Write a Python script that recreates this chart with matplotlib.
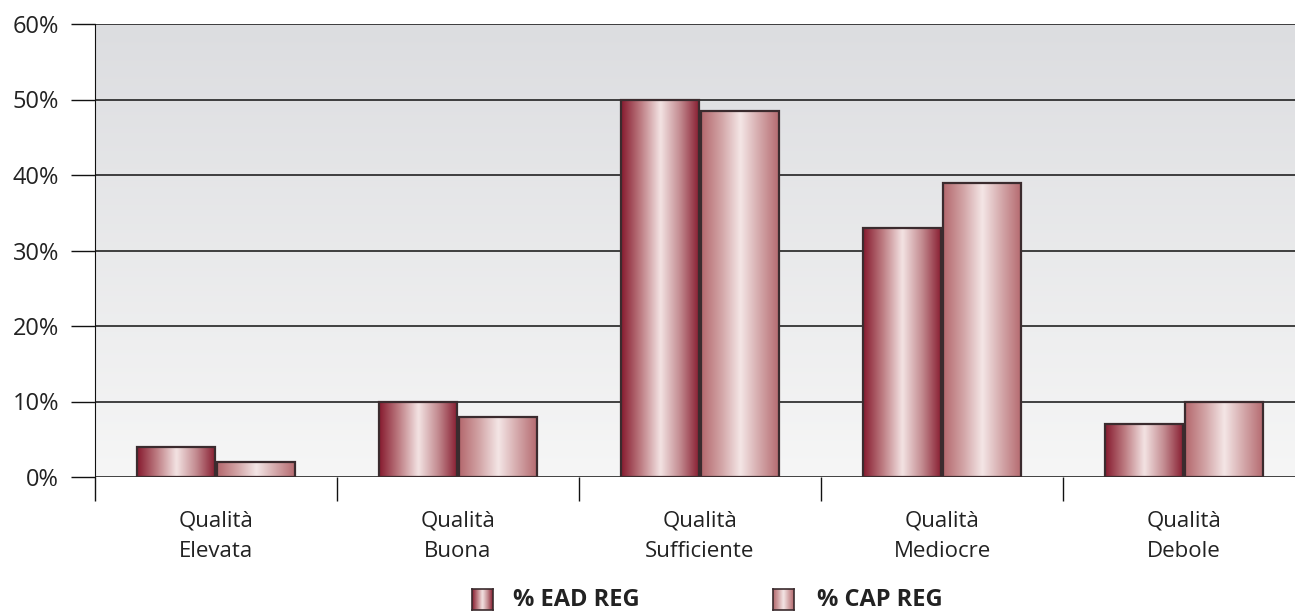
import matplotlib.pyplot as plt
import numpy as np
from matplotlib.colors import LinearSegmentedColormap

categories = ["Qualità\nElevata", "Qualità\nBuona", "Qualità\nSufficiente",
              "Qualità\nMediocre", "Qualità\nDebole"]
ead_reg = [4, 10, 50, 33, 7]
cap_reg = [2, 8, 48.5, 39, 10]
series_names = ["% EAD REG", "% CAP REG"]
y_ticks = [0, 10, 20, 30, 40, 50, 60]

plt.rcParams['font.family'] = ['Open Sans', 'DejaVu Sans']

ead_cmap = LinearSegmentedColormap.from_list(
    "ead", [(0, "#861a2e"), (0.25, "#bd7c82"), (0.5, "#f3e3e3"),
            (0.75, "#c38b90"), (1, "#861a2e")])
cap_cmap = LinearSegmentedColormap.from_list(
    "cap", [(0, "#b4686d"), (0.25, "#d1a2a4"), (0.5, "#f4e6e6"),
            (0.75, "#d3a6a8"), (1, "#b4686d")])

grad = np.linspace(0, 1, 256).reshape(1, -1)


def gradient_bar(ax, x0, x1, h, cmap):
    ax.imshow(grad, cmap=cmap, extent=(x0, x1, 0, h), aspect='auto',
              interpolation='bicubic', zorder=3)
    ax.add_patch(plt.Rectangle((x0, 0), x1 - x0, h, fill=False,
                               edgecolor="#3b2b2e", lw=1.6, zorder=4))


fig = plt.figure(figsize=(12.95, 6.12), dpi=100)
# plot area runs a little past the right edge of the figure
ax = fig.add_axes([95 / 1295, 135 / 612, 1210 / 1295, 453 / 612])

# background gradient, grey on top to near white at the bottom
bg = LinearSegmentedColormap.from_list("bg", ["#f6f6f6", "#dcdde0"])
ax.imshow(np.linspace(0, 1, 256).reshape(-1, 1), cmap=bg, origin='lower',
          extent=(-0.5, 4.5, 0, 60), aspect='auto', zorder=0)

bw = 0.326
for i in range(len(categories)):
    gradient_bar(ax, i - bw, i - 0.003, ead_reg[i], ead_cmap)
    gradient_bar(ax, i + 0.003, i + bw, cap_reg[i], cap_cmap)

ax.set_xlim(-0.5, 4.5)
ax.set_ylim(0, 60)
ax.set_yticks(y_ticks)
ax.set_yticklabels([f"{v}%" for v in y_ticks], fontsize=17, color="#222222")
for v in y_ticks:
    ax.axhline(v, color="#111111", lw=1.1, zorder=2)

ax.set_xticks(np.arange(len(categories) + 1) - 0.5)
ax.set_xticklabels([])
ax.set_xticks(np.arange(len(categories)), minor=True)
ax.set_xticklabels(categories, minor=True, fontsize=16, color="#222222",
                   linespacing=1.6)
ax.tick_params(axis='x', which='minor', length=0, pad=24)
ax.tick_params(axis='x', which='major', length=17, width=1, color="#111111")
ax.tick_params(axis='y', length=17, width=1, color="#111111", pad=9)

for s in ["top", "right", "bottom"]:
    ax.spines[s].set_visible(False)
ax.spines["left"].set_color("#111111")

# legend drawn by hand so that the swatches keep the gradient
for x_sw, x_txt, name, cmap in [(472, 513, series_names[0], ead_cmap),
                                (773, 817, series_names[1], cap_cmap)]:
    sw = fig.add_axes([x_sw / 1295, 2 / 612, 21 / 1295, 21 / 612])
    sw.imshow(grad, cmap=cmap, aspect='auto', interpolation='bicubic')
    sw.set_xticks([])
    sw.set_yticks([])
    for s in sw.spines.values():
        s.set_color("#3b2b2e")
        s.set_linewidth(1.2)
    fig.text(x_txt / 1295, 12 / 612, name, fontsize=17,
             fontweight='bold', color="#222222", va='center', ha='left')

fig.savefig("out.png", dpi=100)
